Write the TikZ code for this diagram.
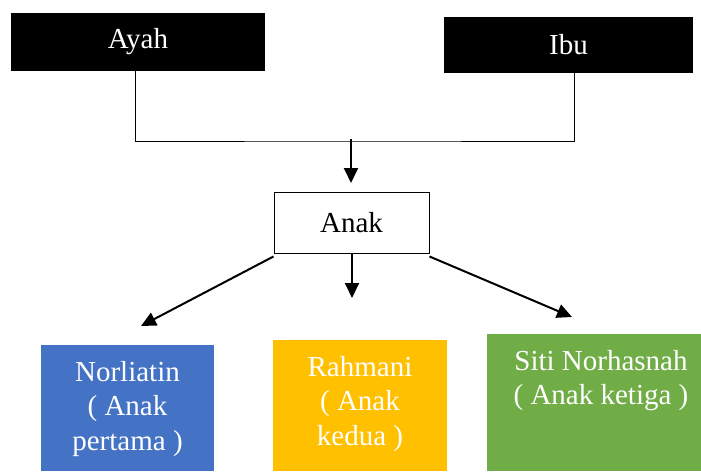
\documentclass[tikz,border=0pt]{standalone}
\usepackage{fontspec}
\setmainfont{Liberation Serif}
\usetikzlibrary{arrows.meta}
\definecolor{anakblue}{HTML}{4472C4}
\definecolor{anakgold}{HTML}{FFC000}
\definecolor{anakgreen}{HTML}{70AD47}
\begin{document}
\begin{tikzpicture}[x=1pt,y=-1pt,
		parent/.style={rectangle,fill=black,text=white,inner sep=0pt,font=\fontsize{29}{34.5}\selectfont},
		childbox/.style={rectangle,inner sep=0pt,anchor=north west},
		childtext/.style={anchor=north,align=center,inner sep=0pt,text=white,font=\fontsize{29}{34.5}\selectfont},
		elbow/.style={line width=0.9pt},
		arr/.style={line width=2pt,-{Triangle[length=15pt,width=14pt]}}]
			\useasboundingbox (0,0) rectangle (701,471);
			\node[parent,minimum width=254pt,minimum height=58pt] (ayah) at (138,42) {Ayah};
			\node[parent,minimum width=249pt,minimum height=56pt] (ibu) at (568.5,45) {Ibu};
			\node[draw=black,line width=0.9pt,fill=white,inner sep=0pt,minimum width=155pt,minimum height=61pt,font=\fontsize{29}{34.5}\selectfont] (anak) at (351.5,222.5) {Anak};
			\node[childbox,fill=anakblue,minimum width=173pt,minimum height=126pt] (norBox) at (41,345) {};
			\node[childbox,fill=anakgold,minimum width=174pt,minimum height=131pt] (rahBox) at (273,340) {};
			\node[childbox,fill=anakgreen,minimum width=215pt,minimum height=137pt] (sitiBox) at (487,334) {};
			\node[childtext] (norText) at (127.5,361) {Norliatin\\( Anak\\pertama )};
			\node[childtext] (rahText) at (360,356) {Rahmani\\( Anak\\kedua )};
			\node[childtext] (sitiText) at (601,350) {Siti Norhasnah\\( Anak ketiga )};
			\coordinate (join) at (351,141);
			\coordinate (joinTip) at (351,183);
			\coordinate (norTip) at (141,326);
			\coordinate (rahTip) at (352,298);
			\coordinate (sitiTip) at (572,317);
			\draw[elbow] ([xshift=-3pt]ayah.south) |- (join) -| ([xshift=5.5pt]ibu.south);
			\draw[arr] ([yshift=2pt]join) -- (joinTip);
			\draw[arr] ([yshift=-3pt]anak.south west) -- (norTip);
			\draw[arr] ([xshift=0.5pt]anak.south) -- (rahTip);
			\draw[arr] ([yshift=-3pt]anak.south east) -- (sitiTip);
		\end{tikzpicture}
\end{document}
